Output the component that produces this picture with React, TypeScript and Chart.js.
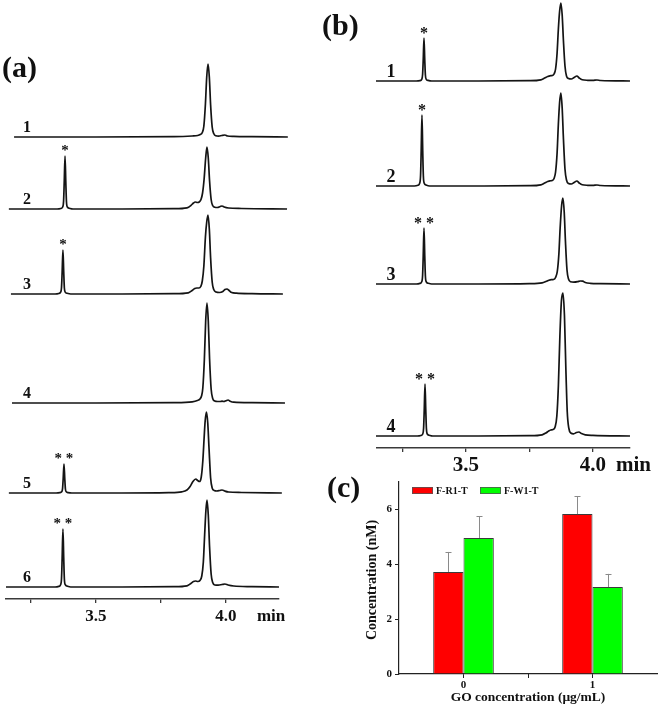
import React, { useEffect, useRef } from 'react';
import { Chart, registerables } from 'chart.js';

Chart.register(...registerables);

const SERIF = '"Liberation Serif", "Times New Roman", serif';

// ---------- Panel (a): chromatograms, time (min) vs. signal ----------
const aTrace1: [number, number][] = [[3.185,0],[3.5,0],[3.80,0.3],[3.87,1],[3.891,1.5],[3.901,2.5],[3.909,4.5],[3.915,11],[3.921,33],[3.926,60],[3.931,73],[3.936,60],[3.941,32],[3.947,10],[3.953,3.5],[3.961,1.2],[3.972,0.8],[3.984,1.5],[3.996,2],[4.006,1],[4.03,0.6],[4.10,0.3],[4.238,0]];
const aTrace2: [number, number][] = [[3.165,0],[3.351,0],[3.365,0.5],[3.372,2],[3.3755,8],[3.378,27],[3.381,53],[3.384,27],[3.3865,7.5],[3.390,2],[3.397,0.8],[3.411,0],[3.60,0],[3.80,0.3],[3.850,1.2],[3.865,3.5],[3.875,6],[3.882,7],[3.890,6.5],[3.897,7],[3.904,9.5],[3.910,16],[3.916,30],[3.922,51],[3.927,62],[3.932,51],[3.937,28],[3.943,9.5],[3.949,3.5],[3.957,1.8],[3.967,1.5],[3.978,2.5],[3.985,3],[3.993,2],[4.01,1],[4.06,0.5],[4.235,0]];
const aTrace3: [number, number][] = [[3.173,0],[3.343,0],[3.357,0.5],[3.364,1.8],[3.3675,6.5],[3.370,22],[3.373,44],[3.376,22],[3.3785,6],[3.382,1.8],[3.389,0.7],[3.403,0],[3.60,0],[3.80,0.3],[3.855,1.2],[3.870,3.5],[3.880,5.5],[3.888,6],[3.896,6],[3.903,7.5],[3.909,13],[3.915,28],[3.921,57],[3.926,72],[3.931,79],[3.936,65],[3.941,36],[3.947,12],[3.953,4.5],[3.962,2],[3.975,1.5],[3.988,2.5],[3.996,4.5],[4.004,5],[4.012,3.5],[4.022,1.5],[4.04,0.8],[4.10,0.3],[4.219,0]];
const aTrace4: [number, number][] = [[3.177,0],[3.50,0],[3.80,0.3],[3.870,1.2],[3.890,2.5],[3.900,4],[3.906,7],[3.911,15],[3.917,44],[3.922,82],[3.927,100],[3.932,82],[3.937,44],[3.943,14],[3.949,4.5],[3.957,2],[3.968,1.5],[3.978,1.5],[3.985,1.8],[3.992,1.5],[4.000,2.2],[4.008,3],[4.016,1.8],[4.03,0.8],[4.10,0.3],[4.227,0]];
const aTrace5: [number, number][] = [[3.165,0],[3.347,0],[3.361,0.3],[3.368,1.2],[3.3715,4.4],[3.374,14.5],[3.377,29],[3.380,14.5],[3.3825,4],[3.386,1.2],[3.393,0.4],[3.407,0],[3.60,0],[3.78,0.4],[3.830,1.2],[3.850,3],[3.862,6.5],[3.873,11.5],[3.884,14],[3.891,12.5],[3.898,11.5],[3.905,16],[3.911,32],[3.916,55],[3.920,72],[3.925,81],[3.930,70],[3.935,44],[3.941,15],[3.947,5],[3.955,2.5],[3.965,2],[3.976,2.5],[3.985,3],[3.995,2],[4.01,1],[4.06,0.5],[4.215,0]];
const aTrace6: [number, number][] = [[3.154,0],[3.343,0],[3.357,0.6],[3.364,2.3],[3.3675,8.5],[3.370,29],[3.373,58],[3.376,29],[3.3785,8],[3.382,2.3],[3.389,0.9],[3.403,0],[3.60,0],[3.80,0.3],[3.850,1.2],[3.865,3.5],[3.875,5.5],[3.883,6],[3.892,5.5],[3.900,6.5],[3.907,11],[3.913,25],[3.918,52],[3.923,77],[3.927,87],[3.932,72],[3.937,40],[3.943,13],[3.949,4.5],[3.957,2],[3.970,1.8],[3.985,2.5],[3.996,3],[4.008,2],[4.03,1],[4.10,0.4],[4.204,0]];
const aOffsets = [462, 390, 305, 196, 106, 12];
const aNames = ['1', '2', '3', '4', '5', '6'];
const aStars = ['', '*', '*', '', '* *', '* *'];
const aStarTimes = [0, 3.381, 3.373, 0, 3.377, 3.373];
const aTicks = [3.25, 3.5, 3.75, 4.0];
const aTickLabels = [3.5, 4.0];

// ---------- Panel (b) ----------
const bTrace1: [number, number][] = [[3.146,0],[3.305,0],[3.319,0.4],[3.326,1.7],[3.3295,6.5],[3.332,21],[3.335,43],[3.338,21],[3.3405,6],[3.344,1.7],[3.351,0.6],[3.365,0],[3.55,0],[3.75,0.3],[3.795,1.2],[3.810,3],[3.822,4.5],[3.831,5.2],[3.840,5.5],[3.847,7],[3.853,12],[3.859,28],[3.864,52],[3.869,70],[3.874,78],[3.879,66],[3.884,40],[3.890,15],[3.896,5],[3.904,2.5],[3.915,2],[3.926,3.5],[3.937,5],[3.946,3],[3.958,1.2],[3.98,0.7],[4.00,0.6],[4.016,1],[4.03,0.5],[4.146,0]];
const bTrace2: [number, number][] = [[3.146,0],[3.297,0],[3.311,0.7],[3.318,2.8],[3.3215,10.5],[3.324,35],[3.327,71],[3.330,35],[3.3325,10],[3.336,2.8],[3.343,1],[3.357,0],[3.55,0],[3.75,0.3],[3.795,1.2],[3.810,3],[3.822,4.5],[3.831,5.2],[3.840,5.5],[3.847,7.5],[3.853,14],[3.859,33],[3.864,62],[3.869,84],[3.874,93],[3.879,78],[3.884,47],[3.890,17],[3.896,6],[3.904,2.5],[3.915,2],[3.926,3.5],[3.937,5],[3.946,3],[3.958,1.2],[3.98,0.7],[4.00,0.6],[4.016,1],[4.03,0.5],[4.146,0]];
const bTrace3: [number, number][] = [[3.146,0],[3.305,0],[3.319,0.6],[3.326,2.2],[3.3295,8.5],[3.332,28],[3.335,56],[3.338,28],[3.3405,8],[3.344,2.2],[3.351,0.8],[3.365,0],[3.55,0],[3.75,0.3],[3.800,1.2],[3.815,2.5],[3.827,3.8],[3.836,4.3],[3.845,4.5],[3.853,6.5],[3.860,13],[3.866,30],[3.871,56],[3.877,79],[3.882,86],[3.887,72],[3.892,42],[3.898,14],[3.904,5],[3.912,2.2],[3.925,1.8],[3.940,2.3],[3.950,3],[3.960,2.8],[3.970,1.5],[3.99,0.7],[4.03,0.4],[4.146,0]];
const bTrace4: [number, number][] = [[3.146,0],[3.309,0],[3.323,0.5],[3.330,2],[3.3335,8],[3.336,26],[3.339,52],[3.342,26],[3.3445,7.5],[3.348,2],[3.355,0.8],[3.369,0],[3.55,0],[3.75,0.3],[3.800,1.2],[3.815,3],[3.826,5],[3.834,6],[3.843,6.5],[3.851,9],[3.858,20],[3.864,50],[3.870,100],[3.876,135],[3.882,143],[3.888,120],[3.893,72],[3.899,24],[3.905,8],[3.913,3],[3.924,2.2],[3.935,3.5],[3.945,4],[3.955,2.5],[3.97,1.2],[4.00,0.6],[4.146,0]];
const bOffsets = [367, 262, 164, 12];
const bNames = ['1', '2', '3', '4'];
const bStars = ['*', '*', '* *', '* *'];
const bStarTimes = [3.335, 3.327, 3.335, 3.339];
const bTicks = [3.25, 3.5, 3.75, 4.0];
const bTickLabels = [3.5, 4.0];

// ---------- Panel (c): bar chart ----------
const cCategories = ['0', '1'];
const cSeriesNames = ['F-R1-T', 'F-W1-T'];
const cRed = [3.72, 5.83];
const cRedErr = [0.73, 0.66];
const cGreen = [4.96, 3.17];
const cGreenErr = [0.80, 0.48];
const cYTicks = [0, 2, 4, 6];
const cXTitle = 'GO concentration (μg/mL)';
const cYTitle = 'Concentration (nM)';

type TraceCfg = {
  traces: [number, number][][];
  offsets: number[];
  names: string[];
  stars: string[];
  starTimes: number[];
  labelTime: number;
  xMin: number; xMax: number; yMax: number;
  padL: number; padR: number;
  ticks: number[]; labelled: number[];
  tickSize: number; tickPad: number; nameSize: number; starSize: number;
};

function traceChart(canvas: HTMLCanvasElement, p: TraceCfg) {
  const annot = {
    id: 'annot',
    afterDatasetsDraw(chart: any) {
      const { ctx, scales } = chart;
      const x = scales.x, y = scales.y;
      ctx.save();
      ctx.fillStyle = '#111';
      ctx.font = `bold ${p.nameSize}px ${SERIF}`;
      ctx.textAlign = 'center';
      ctx.textBaseline = 'middle';
      p.names.forEach((n, i) => {
        ctx.fillText(n, x.getPixelForValue(p.labelTime), y.getPixelForValue(p.offsets[i] + 9));
      });
      ctx.font = `bold ${p.starSize}px ${SERIF}`;
      ctx.textBaseline = 'alphabetic';
      p.stars.forEach((s, i) => {
        if (!s) return;
        const t = p.starTimes[i];
        const pt = p.traces[i].find((q) => q[0] === t);
        const h = pt ? pt[1] : 0;
        ctx.fillText(s, x.getPixelForValue(t), y.getPixelForValue(p.offsets[i] + h + 8) + 0.47 * p.starSize);
      });
      ctx.font = `bold ${p.tickSize}px ${SERIF}`;
      ctx.textAlign = 'left';
      ctx.textBaseline = 'middle';
      const x40 = x.getPixelForValue(4.0);
      ctx.fillText('min', x40 + (p.tickSize > 18 ? 23 : 31), x.top + 4 + p.tickPad + 0.6 * p.tickSize);
      ctx.restore();
    },
  };
  return new Chart(canvas, {
    type: 'line',
    data: {
      datasets: p.traces.map((tr, i) => ({
        data: tr.map(([t, v]) => ({ x: t, y: v + p.offsets[i] })),
        borderColor: '#141414',
        borderWidth: 1.7,
        pointRadius: 0,
        fill: false,
        cubicInterpolationMode: 'monotone',
        clip: false,
      })),
    } as any,
    options: {
      responsive: false,
      maintainAspectRatio: false,
      animation: false,
      events: [],
      layout: { padding: { left: p.padL, right: p.padR, top: 0, bottom: 0 } },
      plugins: { legend: { display: false }, tooltip: { enabled: false } },
      scales: {
        x: {
          type: 'linear',
          min: p.xMin,
          max: p.xMax,
          afterBuildTicks: (s: any) => { s.ticks = p.ticks.map((v) => ({ value: v })); },
          afterFit: (s: any) => { s.height = 30; },
          ticks: {
            autoSkip: false,
            maxRotation: 0,
            padding: p.tickPad,
            color: '#111',
            font: { family: SERIF, size: p.tickSize, weight: 'bold' },
            callback: (v: any) => (p.labelled.includes(Number(v)) ? Number(v).toFixed(1) : ''),
          },
          grid: { drawOnChartArea: false, drawTicks: true, tickLength: 4, color: '#3a3a3a', lineWidth: 1.3 },
          border: { display: true, color: '#3a3a3a', width: 1.5 },
        },
        y: { display: false, min: 0, max: p.yMax },
      },
    } as any,
    plugins: [annot],
  });
}

function barChart(canvas: HTMLCanvasElement) {
  const extras = {
    id: 'extras',
    afterDatasetsDraw(chart: any) {
      const { ctx, chartArea: ca, scales } = chart;
      const y = scales.y, x = scales.x;
      ctx.save();
      // error bars
      const errs = [cRedErr, cGreenErr];
      const vals = [cRed, cGreen];
      ctx.strokeStyle = '#8a8a8a';
      ctx.lineWidth = 1;
      [0, 1].forEach((d) => {
        const meta = chart.getDatasetMeta(d);
        meta.data.forEach((bar: any, j: number) => {
          const px = Math.round(bar.x) + 0.5;
          const y0 = y.getPixelForValue(vals[d][j]);
          const y1 = y.getPixelForValue(vals[d][j] + errs[d][j]);
          ctx.beginPath();
          ctx.moveTo(px, y0);
          ctx.lineTo(px, y1);
          ctx.moveTo(px - 3, Math.round(y1) + 0.5);
          ctx.lineTo(px + 3, Math.round(y1) + 0.5);
          ctx.stroke();
        });
      });
      // minor x tick between categories
      ctx.strokeStyle = '#222';
      const mid = (x.getPixelForValue(0) + x.getPixelForValue(1)) / 2;
      ctx.beginPath();
      ctx.moveTo(Math.round(mid) + 0.5, ca.bottom);
      ctx.lineTo(Math.round(mid) + 0.5, ca.bottom + 4);
      ctx.stroke();
      // legend
      const colors = ['#ff0000', '#00ff00'];
      const boxX = [ca.left + 13, ca.left + 81];
      ctx.font = `bold 10px ${SERIF}`;
      ctx.textBaseline = 'middle';
      ctx.textAlign = 'left';
      cSeriesNames.forEach((n, i) => {
        ctx.fillStyle = colors[i];
        ctx.fillRect(boxX[i], ca.top + 5, 21, 7);
        ctx.strokeStyle = '#555';
        ctx.lineWidth = 0.8;
        ctx.strokeRect(boxX[i] + 0.5, ca.top + 5.5, 20, 6);
        ctx.fillStyle = '#111';
        ctx.fillText(n, boxX[i] + 24, ca.top + 9);
      });
      // axis titles
      ctx.fillStyle = '#111';
      ctx.font = `bold 13.5px ${SERIF}`;
      ctx.textAlign = 'center';
      ctx.fillText(cXTitle, (ca.left + ca.right) / 2, ca.bottom + 24);
      ctx.save();
      ctx.translate(ca.left - 27, (ca.top + ca.bottom) / 2 + 2);
      ctx.rotate(-Math.PI / 2);
      ctx.font = `bold 14px ${SERIF}`;
      ctx.fillText(cYTitle, 0, 0);
      ctx.restore();
      ctx.restore();
    },
  };
  return new Chart(canvas, {
    type: 'bar',
    data: {
      labels: cCategories,
      datasets: [
        { label: cSeriesNames[0], data: cRed, backgroundColor: '#ff0000', borderColor: '#3a3a3a', borderWidth: 1, categoryPercentage: 0.47, barPercentage: 1 },
        { label: cSeriesNames[1], data: cGreen, backgroundColor: '#00ff00', borderColor: '#3a3a3a', borderWidth: 1, categoryPercentage: 0.47, barPercentage: 1 },
      ],
    } as any,
    options: {
      responsive: false,
      maintainAspectRatio: false,
      animation: false,
      events: [],
      layout: { padding: { left: 0, right: 3, top: 12, bottom: 0 } },
      plugins: { legend: { display: false }, tooltip: { enabled: false } },
      scales: {
        x: {
          grid: { offset: false, drawOnChartArea: false, tickLength: 4, color: '#222' },
          border: { display: true, color: '#222', width: 1.2 },
          ticks: { padding: 1, color: '#111', font: { family: SERIF, size: 11, weight: 'bold' } },
          afterFit: (s: any) => { s.height = 36; },
        },
        y: {
          min: 0,
          max: 7,
          afterBuildTicks: (s: any) => { s.ticks = cYTicks.map((v) => ({ value: v })); },
          ticks: { padding: 3, color: '#111', font: { family: SERIF, size: 11, weight: 'bold' } },
          grid: { drawOnChartArea: false, tickLength: 4, color: '#222' },
          border: { display: true, color: '#222', width: 1.2 },
          afterFit: (s: any) => { s.width = 49; },
        },
      },
    } as any,
    plugins: [extras],
  });
}

const panelLabel: React.CSSProperties = {
  position: 'absolute',
  font: `bold 30px ${SERIF}`,
  lineHeight: '30px',
  color: '#111',
  whiteSpace: 'nowrap',
};

export default function App() {
  const aRef = useRef<HTMLCanvasElement>(null);
  const bRef = useRef<HTMLCanvasElement>(null);
  const cRef = useRef<HTMLCanvasElement>(null);

  useEffect(() => {
    const charts: Chart[] = [];
    if (aRef.current) {
      charts.push(traceChart(aRef.current, {
        traces: [aTrace1, aTrace2, aTrace3, aTrace4, aTrace5, aTrace6],
        offsets: aOffsets, names: aNames, stars: aStars, starTimes: aStarTimes,
        labelTime: 3.235, xMin: 3.154, xMax: 4.204, yMax: 560,
        padL: 6, padR: 21, ticks: aTicks, labelled: aTickLabels,
        tickSize: 17, tickPad: 3, nameSize: 16, starSize: 15,
      }));
    }
    if (bRef.current) {
      charts.push(traceChart(bRef.current, {
        traces: [bTrace1, bTrace2, bTrace3, bTrace4],
        offsets: bOffsets, names: bNames, stars: bStars, starTimes: bStarTimes,
        labelTime: 3.205, xMin: 3.150, xMax: 4.146, yMax: 448,
        padL: 77, padR: 30, ticks: bTicks, labelled: bTickLabels,
        tickSize: 21, tickPad: 1, nameSize: 18, starSize: 16,
      }));
    }
    if (cRef.current) charts.push(barChart(cRef.current));
    return () => charts.forEach((c) => c.destroy());
  }, []);

  return (
    <div style={{ position: 'absolute', left: 0, top: 0, width: 660, height: 710, background: '#fff', overflow: 'hidden' }}>
      <canvas ref={aRef} width={300} height={590} style={{ position: 'absolute', left: 0, top: 39, width: 300, height: 590 }} />
      <canvas ref={bRef} width={360} height={478} style={{ position: 'absolute', left: 300, top: 0, width: 360, height: 478 }} />
      <canvas ref={cRef} width={310} height={240} style={{ position: 'absolute', left: 350, top: 470, width: 310, height: 240 }} />
      <div style={{ ...panelLabel, left: 2, top: 52 }}>(a)</div>
      <div style={{ ...panelLabel, left: 322, top: 10 }}>(b)</div>
      <div style={{ ...panelLabel, left: 327, top: 472 }}>(c)</div>
    </div>
  );
}
